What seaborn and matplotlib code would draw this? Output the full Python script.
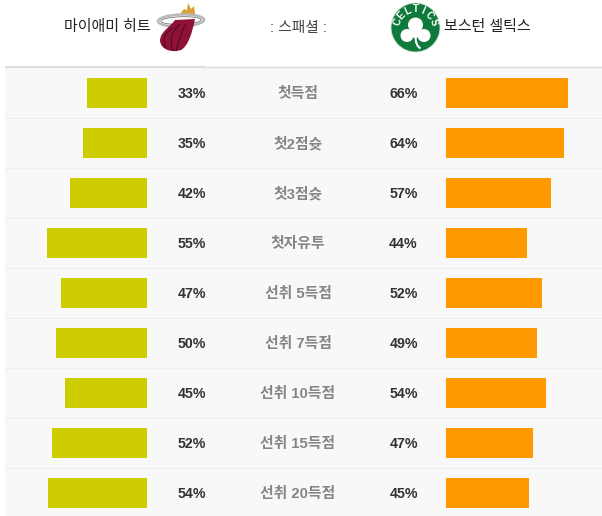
import numpy as np
import pandas as pd
import matplotlib
matplotlib.use("Agg")
import matplotlib.pyplot as plt
from matplotlib.patches import Circle, Ellipse, PathPatch, Rectangle
from matplotlib.path import Path
import seaborn as sns

# Per-stat win shares for the two clubs
stats = ["첫득점", "첫2점슛", "첫3점슛", "첫자유투", "선취 5득점", "선취 7득점", "선취 10득점", "선취 15득점", "선취 20득점"]
miami_pct = [33, 35, 42, 55, 47, 50, 45, 52, 54]
boston_pct = [66, 64, 57, 44, 52, 49, 54, 47, 45]
miami_name = "마이애미 히트"
boston_name = "보스턴 셀틱스"
center_title = ": 스패셜 :"

W, H = 602, 516
ROW_TOP, ROW_H = 68, 50
LATIN_CJK = ["Liberation Sans", "Noto Sans CJK KR"]

sns.set_theme(style="white")
plt.rcParams["font.family"] = LATIN_CJK

df = pd.DataFrame({"stat": stats, "miami": miami_pct, "boston": boston_pct})
fig = plt.figure(figsize=(W / 100, H / 100), dpi=100, facecolor="white")

# Pixel-space canvas for row stripes, text and club badges
bg = fig.add_axes([0, 0, 1, 1])
bg.set_xlim(0, W)
bg.set_ylim(H, 0)
bg.axis("off")
rows_bottom = ROW_TOP + ROW_H * len(stats)
bg.add_patch(Rectangle((5, ROW_TOP), W - 5, rows_bottom - ROW_TOP, fc="#f8f8f8", ec="none"))
for i in range(1, len(stats)):
    bg.plot([5, W], [ROW_TOP + i * ROW_H - 0.5] * 2, color="#eeeeee", lw=0.75)
bg.plot([5, 206], [67, 67], color="#dddddd", lw=1.5, solid_capstyle="butt")
bg.plot([206, W], [67, 67], color="#dddddd", lw=1.0, solid_capstyle="butt")


def bar_axes(x0, x1, col, color, reverse, px_per_pct):
    ax = fig.add_axes([x0 / W, 1 - rows_bottom / H, (x1 - x0) / W, (rows_bottom - ROW_TOP) / H])
    ax.patch.set_alpha(0)
    sns.barplot(data=df, y="stat", x=col, ax=ax, color=color, saturation=1, width=0.6,
                orient="h", edgecolor="none", linewidth=0)
    span = (x1 - x0) / px_per_pct
    ax.set_xlim((span, 0) if reverse else (0, span))
    ax.set_ylim(len(stats) - 0.5, -0.5)
    ax.axis("off")
    return ax


bar_axes(5, 147, "miami", "#cccc00", True, 1.825)
bar_axes(446, W, "boston", "#ff9900", False, 1.85)

for i, (name, m, b) in enumerate(zip(stats, miami_pct, boston_pct)):
    y = ROW_TOP + ROW_H * (i + 0.5)
    bg.text(191.5, y + 1, f"{m}%", ha="center", va="center", fontsize=10.2, fontweight="bold", color="#333333")
    bg.text(403.5, y + 1, f"{b}%", ha="center", va="center", fontsize=10.2, fontweight="bold", color="#333333")
    bg.text(298, y + 1, name, ha="center", va="center", fontsize=10.7, fontweight="bold", color="#858585")

bg.text(151, 27.5, miami_name, ha="right", va="center", fontsize=10.8, color="#222222")
bg.text(444, 27.5, boston_name, ha="left", va="center", fontsize=10.8, color="#222222")
bg.text(298, 28, center_title, ha="center", va="center", fontsize=10.6, color="#444444")

# Heat badge: flames, hoop ring and ball
flame = Path([(180, 14), (184, 9), (187, 10), (188, 3), (191, 9), (194, 6), (195, 14), (180, 14)],
             [1, 2, 2, 2, 2, 2, 2, 79])
bg.add_patch(PathPatch(flame, fc="#dca030", ec="none"))
bg.add_patch(Ellipse((181, 20.5), 46, 12, angle=-2, fc="none", ec="#b8b8b8", lw=1.8))
bg.add_patch(Ellipse((181, 20.5), 40, 7.5, angle=-2, fc="none", ec="#777777", lw=0.6))
ball = Path([(175, 20), (169, 28), (160, 32), (160, 41), (161, 50), (172, 53), (181, 50),
             (188, 46), (192, 34), (195, 19), (175, 20)],
            [1, 4, 4, 4, 4, 4, 4, 4, 4, 4, 79])
bg.add_patch(PathPatch(ball, fc="#8e1237", ec="none"))
for path in ([(180, 24), (170, 32), (170, 44), (173, 51)],
             [(186, 24), (180, 34), (178, 44), (176, 51)],
             [(172, 28), (164, 34), (162, 40), (166, 48)]):
    bg.add_patch(PathPatch(Path(path, [1, 4, 4, 4]), fc="none", ec="#3a0a1c", lw=0.6))

# Celtics badge: green disc, lettering on an arc, clover
cx, cy, r = 415.5, 27.5, 24.5
bg.add_patch(Circle((cx, cy), r, fc="#0f7a3c", ec="#cfe3d6", lw=0.6))
for ch, a in zip("CELTICS", np.linspace(-72, 72, 7)):
    t = np.deg2rad(a)
    bg.text(cx + 18.5 * np.sin(t), cy - 18.5 * np.cos(t), ch, ha="center", va="center",
            rotation=-a, rotation_mode="anchor",
            fontsize=7, fontweight="bold", color="white", family="Liberation Sans")
for dx, dy, s in [(-8.5, 8, 6.5), (8.5, 8, 6.5), (0, -2.5, 7.5), (0, 6, 4.5)]:
    bg.add_patch(Circle((cx + dx, cy + dy), s, fc="white", ec="none"))
stem = Path([(cx, cy + 8), (cx, cy + 16), (cx + 2, cy + 19), (cx + 5, cy + 21)], [1, 4, 4, 4])
bg.add_patch(PathPatch(stem, fc="none", ec="white", lw=1.5))

fig.savefig("out.png", dpi=100)
